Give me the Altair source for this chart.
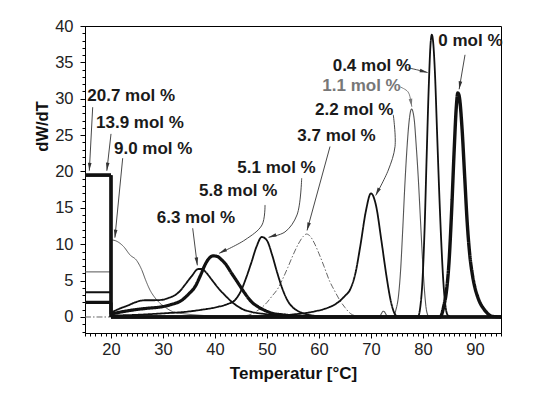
import math
import altair as alt
import pandas as pd

# ---------------- data ----------------
names = ["20.7 mol %", "13.9 mol %", "9.0 mol %", "6.3 mol %", "5.8 mol %",
         "5.1 mol %", "3.7 mol %", "2.2 mol %", "1.1 mol %", "0.4 mol %", "0 mol %"]

# low-temperature (15-20 °C) step parts
step_x = [15, 20, 20]
step_207 = [19.5, 19.5, 0.0]
step_139 = [19.5, 19.5, 0.0]
step_90 = [6.2, 6.2, 10.6]
step_63 = [3.4, 3.4, 0.6]
step_58 = [2.0, 2.0, 0.4]

# smooth parts
t_207 = [20, 95]
w_207 = [0.0, 0.0]
t_139 = [20, 95]
w_139 = [0.0, 0.0]
t_90 = [20, 20.8, 22.4, 23.7, 24.9, 25.9, 26.7, 27.5, 28.4, 29.4, 30.7, 32, 34.6, 38, 45, 95]
w_90 = [10.6, 10.5, 9.7, 8.5, 7.8, 6.5, 5.0, 3.7, 2.7, 1.9, 1.2, 0.7, 0.4, 0.2, 0.05, 0.0]
t_63 = [20, 21.5, 23.3, 25, 26.5, 28, 29.7, 31, 32.3, 33.3, 34.2, 35.5, 36.8, 37.5,
        38.3, 39.4, 40.6, 41.9, 43.2, 44.5, 45.7, 47, 49.6, 52, 55, 60, 95]
w_63 = [0.6, 1.1, 1.6, 2.1, 2.3, 2.3, 2.35, 2.6, 3.0, 3.6, 4.4, 5.6, 6.6, 6.6,
        6.1, 5.1, 4.0, 3.0, 2.1, 1.4, 0.95, 0.7, 0.4, 0.2, 0.1, 0.0, 0.0]
t_58 = [20, 22, 24.6, 27, 29.7, 31.5, 33.6, 35, 36.2, 37.2, 38.1, 38.9, 39.7, 40.5,
        41.2, 41.9, 43.2, 44.5, 45.7, 47, 48.3, 49.6, 51, 53, 56, 60, 95]
w_58 = [0.4, 0.7, 1.0, 1.2, 1.4, 1.7, 2.3, 3.2, 4.2, 5.7, 7.2, 8.1, 8.4, 8.3,
        7.9, 7.4, 6.0, 4.6, 3.3, 2.1, 1.4, 0.9, 0.5, 0.3, 0.1, 0.0, 0.0]
t_51 = [20, 25, 30, 34.2, 37.5, 40.6, 42.5, 43.8, 45, 46, 47, 48, 49, 50, 51, 52,
        53, 54, 55, 56, 57, 58, 60, 62, 95]
w_51 = [0.2, 0.3, 0.5, 0.7, 1.0, 1.4, 1.8, 2.3, 3.6, 5.4, 7.5, 9.7, 11.0, 10.5, 8.5, 6.0,
        3.8, 2.2, 1.3, 0.8, 0.5, 0.3, 0.1, 0.0, 0.0]
t_37 = [15, 20, 40, 45, 47, 48, 50, 51, 52, 53, 54, 55, 56, 57, 57.6, 58.3, 59, 60,
        61, 62, 63, 64, 65, 66, 67, 68, 95]
w_37 = [0.0, 0.0, 0.0, 0.1, 0.4, 0.8, 2.0, 2.9, 3.8, 5.2, 6.8, 8.5, 10.0, 11.1, 11.4, 11.1,
        10.3, 8.7, 6.9, 5.0, 3.6, 2.3, 1.3, 0.5, 0.15, 0.0, 0.0]
t_22 = [20, 45, 50, 53, 55, 57, 59, 61, 63, 64, 65, 66, 67, 68, 69, 70, 71, 72, 73,
        73.8, 74.6, 75.3, 95]
w_22 = [0.0, 0.0, 0.1, 0.2, 0.35, 0.5, 0.75, 1.1, 1.7, 2.2, 2.9, 3.8, 6.0, 10.0, 14.5,
        17.0, 15.2, 10.5, 5.5, 2.2, 0.4, 0.0, 0.0]
t_11 = [20, 71.5, 72.4, 73.2, 74.2, 74.8, 75.3, 75.7, 76.1, 76.5, 76.9, 77.3, 77.8,
        78.3, 78.7, 79.1, 79.5, 79.9, 80.3, 80.7, 81.2, 95]
w_11 = [0.0, 0.0, 0.8, 0.1, 0.0, 1.0, 3.0, 6.5, 12.0, 18.0, 23.0, 26.7, 28.6,
        27.2, 23.5, 19.0, 13.5, 8.0, 3.5, 0.8, 0.0, 0.0]
t_04 = [20, 79.0, 79.5, 79.9, 80.3, 80.7, 81.1, 81.45, 81.7, 81.95, 82.3, 82.7, 83.1,
        83.5, 83.9, 84.3, 84.8, 85.5, 95]
w_04 = [0.0, 0.0, 1.5, 5.0, 12.0, 22.0, 31.5, 37.5, 38.8, 37.8, 33.5, 25.5, 17.5,
        10.5, 5.0, 1.6, 0.2, 0.0, 0.0]
t_00 = [20, 83.3, 84, 84.5, 85, 85.5, 86, 86.4, 86.7, 87.0, 87.5, 88, 88.5, 89, 89.5,
        90, 90.5, 91, 91.6, 92.4, 93.2, 95]
w_00 = [0.0, 0.0, 1.5, 3.5, 7.5, 14.5, 23.0, 28.8, 30.8, 30.2, 26.0, 19.5, 13.0, 8.5, 5.8,
        4.0, 2.8, 1.9, 1.2, 0.5, 0.1, 0.0]

steps = {"20.7 mol %": step_207, "13.9 mol %": step_139, "9.0 mol %": step_90,
         "6.3 mol %": step_63, "5.8 mol %": step_58}
curves = {"20.7 mol %": (t_207, w_207), "13.9 mol %": (t_139, w_139), "9.0 mol %": (t_90, w_90),
          "6.3 mol %": (t_63, w_63), "5.8 mol %": (t_58, w_58), "5.1 mol %": (t_51, w_51),
          "3.7 mol %": (t_37, w_37), "2.2 mol %": (t_22, w_22), "1.1 mol %": (t_11, w_11),
          "0.4 mol %": (t_04, w_04), "0 mol %": (t_00, w_00)}

# label anchors (data coordinates)
lab_x = [15.44, 17.12, 20.58, 28.79, 36.92, 44.29, 55.83, 59.23, 60.63, 62.63, 82.94]
lab_y = [29.64, 25.93, 22.42, 12.93, 16.64, 19.81, 24.21, 27.79, 31.09, 33.84, 37.21]

# arrow paths (data coordinates, last point = tip)
arrows = {
    "20.7 mol %": ([16.48, 15.83], [28.84, 20.1]),
    "13.9 mol %": ([20.0, 19.2], [25.17, 20.1]),
    "9.0 mol %": ([22.25, 20.75], [21.83, 10.9]),
    "6.3 mol %": ([35.71, 36.6], [12.2, 7.1]),
    "5.8 mol %": ([49.62, 49.04, 45.77, 40.8], [15.4, 12.65, 10.6, 8.75]),
    "5.1 mol %": ([56.67, 55.77, 53.46, 50.3], [19.08, 14.03, 11.69, 10.95]),
    "3.7 mol %": ([62.12, 57.7], [23.43, 11.9]),
    "2.2 mol %": ([74.29, 74.62, 73.33, 70.9], [27.79, 23.43, 20.2, 16.7]),
    "1.1 mol %": ([75.58, 77.12, 77.69, 77.85], [31.64, 30.95, 29.57, 28.9]),
    "0.4 mol %": ([77.17, 79.0, 80.9], [34.25, 33.95, 33.6]),
    "0 mol %": ([88.08, 86.95], [36.04, 31.3]),
}

# ---------------- styles ----------------
style = {
    "20.7 mol %": (3.2, "#111111", [1, 0]),
    "13.9 mol %": (3.2, "#111111", [1, 0]),
    "9.0 mol %": (1.0, "#555555", [1, 0]),
    "6.3 mol %": (1.8, "#111111", [1, 0]),
    "5.8 mol %": (3.2, "#111111", [1, 0]),
    "5.1 mol %": (1.8, "#111111", [1, 0]),
    "3.7 mol %": (1.0, "#666666", [6, 2, 1.5, 2]),
    "2.2 mol %": (1.8, "#111111", [1, 0]),
    "1.1 mol %": (1.1, "#555555", [1, 0]),
    "0.4 mol %": (1.8, "#111111", [1, 0]),
    "0 mol %": (3.4, "#111111", [1, 0]),
}
draw_order = ["3.7 mol %", "9.0 mol %", "1.1 mol %", "6.3 mol %", "5.1 mol %", "2.2 mol %",
              "0.4 mol %", "5.8 mol %", "0 mol %", "13.9 mol %", "20.7 mol %"]

W, H = 416, 307
X_DOM = [15, 95]
Y_DOM = [-2.2, 40]
SX = W / (X_DOM[1] - X_DOM[0])
SY = H / (Y_DOM[1] - Y_DOM[0])
FONT = "Liberation Sans"

xs = alt.Scale(domain=X_DOM, nice=False, zero=False)
ys = alt.Scale(domain=Y_DOM, nice=False, zero=False)

x_major = alt.Axis(orient="bottom", values=list(range(20, 100, 10)), tickSize=5,
                   labelPadding=3, labelFontSize=16.5, labelColor="#222222", labelFont=FONT,
                   labelFlush=False, domainColor="black", tickColor="black",
                   title="Temperatur [°C]", titleFont=FONT, titleFontSize=17,
                   titleFontWeight="bold", titleColor="#111111", titleBaseline="alphabetic",
                   titleY=45.5, grid=False)
y_major = alt.Axis(orient="left", values=list(range(0, 45, 5)), tickSize=5,
                   labelPadding=7, labelFontSize=16.5, labelColor="#222222", labelFont=FONT,
                   labelFlush=False, domainColor="black", tickColor="black",
                   title="dW/dT", titleFont=FONT, titleFontSize=16.5, titleFontWeight="bold",
                   titleColor="#111111", titleAngle=270, titleAlign="center",
                   titleBaseline="alphabetic", titleX=-38, titleY=100, grid=False)
x_minor = alt.Axis(orient="bottom", values=list(range(15, 96)), tickSize=3, labels=False,
                   domain=False, tickColor="black", title=None, grid=False)
y_minor = alt.Axis(orient="left", values=list(range(-2, 41)), tickSize=3, labels=False,
                   domain=False, tickColor="black", title=None, grid=False)

layers = []

# minor tick carrier (invisible)
carrier = pd.DataFrame({"x": X_DOM, "y": Y_DOM})
layers.append(alt.Chart(carrier).mark_point(opacity=0).encode(
    x=alt.X("x:Q", scale=xs, axis=x_minor), y=alt.Y("y:Q", scale=ys, axis=y_minor)))

first = True
for nm in draw_order:
    sw, col, dash = style[nm]
    if nm in steps:
        df = pd.DataFrame({"x": step_x, "y": steps[nm], "i": list(range(len(step_x)))})
        layers.append(alt.Chart(df).mark_line(strokeWidth=sw, color=col, strokeDash=dash,
                                              interpolate="linear", strokeJoin="miter").encode(
            x=alt.X("x:Q", scale=xs, axis=None), y=alt.Y("y:Q", scale=ys, axis=None),
            order="i:Q"))
    tx, wy = curves[nm]
    df = pd.DataFrame({"x": tx, "y": wy})
    enc_x = alt.X("x:Q", scale=xs, axis=x_major if first else None)
    enc_y = alt.Y("y:Q", scale=ys, axis=y_major if first else None)
    first = False
    layers.append(alt.Chart(df).mark_line(strokeWidth=sw, color=col, strokeDash=dash,
                                          interpolate="monotone").encode(x=enc_x, y=enc_y))

# arrows
arrow_rows = []
head_rows = []
for nm, (ax, ay) in arrows.items():
    col = "#777777" if nm == "1.1 mol %" else "#333333"
    for k, (px, py) in enumerate(zip(ax, ay)):
        arrow_rows.append({"a": nm, "k": k, "x": px, "y": py, "c": col})
    dxp = (ax[-1] - ax[-2]) * SX
    dyp = -(ay[-1] - ay[-2]) * SY
    ln = math.hypot(dxp, dyp)
    ux, uy = dxp / ln, dyp / ln
    ang = math.degrees(math.atan2(ux, -uy)) % 360
    r = 4.0
    head_rows.append({"a": nm, "x": ax[-1] - ux * r / SX, "y": ay[-1] + uy * r / SY,
                      "ang": ang, "c": col})
arrow_df = pd.DataFrame(arrow_rows)
head_df = pd.DataFrame(head_rows)

layers.append(alt.Chart(arrow_df).mark_line(interpolate="catmull-rom", strokeWidth=0.9).encode(
    x=alt.X("x:Q", scale=xs, axis=None), y=alt.Y("y:Q", scale=ys, axis=None),
    detail="a:N", order="k:Q", color=alt.Color("c:N", scale=None)))
layers.append(alt.Chart(head_df).mark_point(shape="M0,-1L0.45,1L-0.45,1Z", filled=True,
                                            size=64, opacity=1, strokeWidth=0).encode(
    x=alt.X("x:Q", scale=xs, axis=None), y=alt.Y("y:Q", scale=ys, axis=None),
    angle=alt.Angle("ang:Q", scale=None), color=alt.Color("c:N", scale=None)))

# labels
lab_df = pd.DataFrame({"t": names, "x": lab_x, "y": lab_y,
                       "c": ["#777777" if n == "1.1 mol %" else "#1a1a1a" for n in names]})
layers.append(alt.Chart(lab_df).mark_text(align="left", baseline="alphabetic", font=FONT,
                                          fontSize=17, fontWeight="bold").encode(
    x=alt.X("x:Q", scale=xs, axis=None), y=alt.Y("y:Q", scale=ys, axis=None),
    text="t:N", color=alt.Color("c:N", scale=None)))

chart = alt.layer(*layers).resolve_axis(x="independent", y="independent").properties(
    width=W, height=H, autosize="none",
    padding={"left": 77, "top": 18, "right": 34, "bottom": 56},
    background="white",
).configure_view(stroke="black", strokeWidth=1)

chart.save("out.html", embed_options={"renderer": "svg", "actions": False})
